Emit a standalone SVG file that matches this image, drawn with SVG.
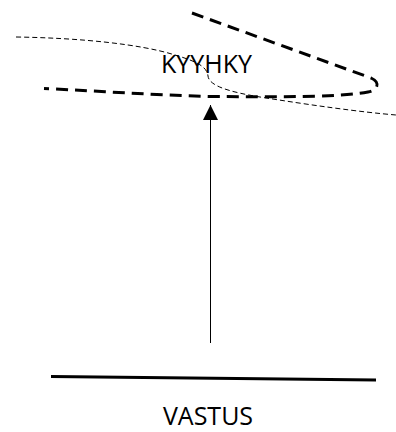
<svg xmlns="http://www.w3.org/2000/svg" width="396" height="432" viewBox="0 0 396 432">
<style>
.lbl{font-family:"Open Sans","Liberation Sans",sans-serif;font-size:25px;fill:#000;text-anchor:middle}
.thick{fill:none;stroke:#000;stroke-width:3;stroke-dasharray:12 7}
.thin{fill:none;stroke:#000;stroke-width:1;stroke-dasharray:5 3}
</style>
<defs>
<marker id="ah" viewBox="0 0 10 10" refX="10" refY="5" markerWidth="15" markerHeight="15" markerUnits="userSpaceOnUse" orient="auto">
<path d="M0,0 L10,5 L0,10 z" fill="#000"/>
</marker>
</defs>
<rect width="396" height="432" fill="#fff"/>
<g id="kyyhky">
<path class="thick" d="M192,13 L371,78 C380,82 379,90 368,92 C340,97 300,97 210,96.5 C150,95 100,91 44,88.5"/>
<path class="thin" d="M16,37 C80,38 140,44 175,55 C195,61 207,66 208,76 C209,86 230,92 260,97 C310,105 360,112 396,115"/>
<text class="lbl" x="206.5" y="73">KYYHKY</text>
</g>
<g id="vastus">
<line x1="51" y1="376.5" x2="376" y2="380" stroke="#000" stroke-width="3"/>
<text class="lbl" x="208" y="425">VASTUS</text>
</g>
<g id="connectors">
<line x1="210.5" y1="343" x2="210.5" y2="105" stroke="#000" stroke-width="1" marker-end="url(#ah)"/>
</g>
</svg>
